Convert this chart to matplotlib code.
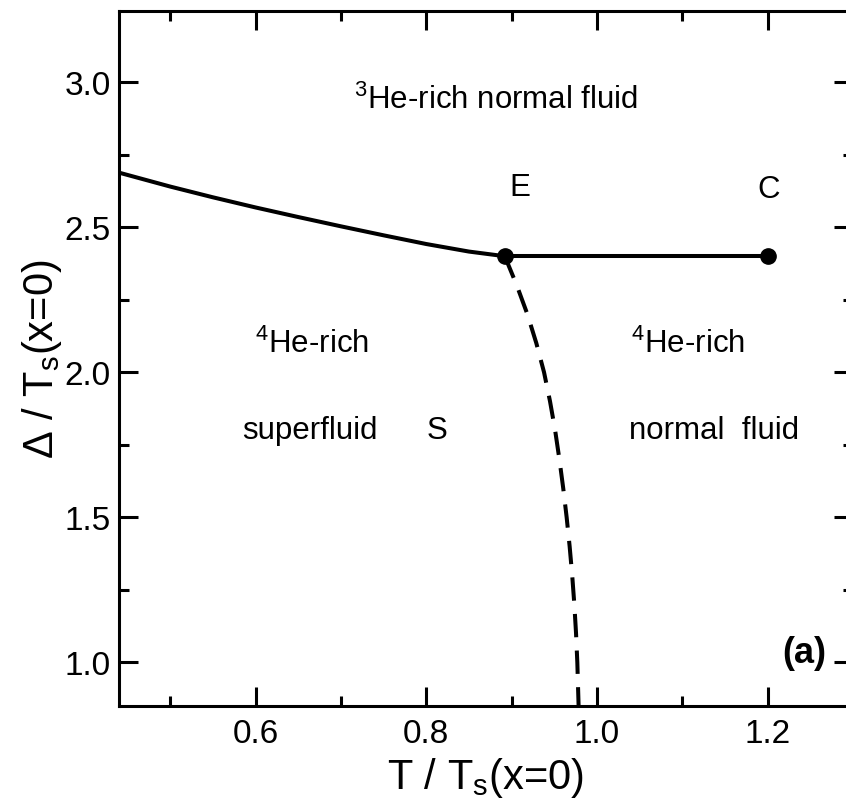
import matplotlib
matplotlib.use('Agg')
import matplotlib.pyplot as plt
from matplotlib.ticker import MultipleLocator

plt.rcParams['font.family'] = 'Liberation Sans'
plt.rcParams['mathtext.fontset'] = 'custom'
plt.rcParams['mathtext.rm'] = 'Liberation Sans'
plt.rcParams['mathtext.it'] = 'Liberation Sans'
plt.rcParams['mathtext.bf'] = 'Liberation Sans:bold'

# phase boundary data
solid_t = [0.44, 0.50, 0.55, 0.60, 0.65, 0.70, 0.75, 0.80, 0.85, 0.892]
solid_d = [2.688, 2.640, 2.603, 2.568, 2.535, 2.503, 2.472, 2.442, 2.416, 2.400]

line_t = [0.892, 1.20]
line_d = [2.400, 2.400]

dash_t = [0.892, 0.906, 0.9185, 0.929, 0.938, 0.945, 0.951, 0.956, 0.9605,
          0.9645, 0.968, 0.971, 0.9735, 0.9755, 0.977, 0.9785]
dash_d = [2.40, 2.30, 2.20, 2.10, 2.00, 1.90, 1.80, 1.70, 1.60,
          1.50, 1.40, 1.30, 1.20, 1.10, 1.00, 0.85]

point_t = [0.892, 1.20]
point_d = [2.400, 2.400]

fig = plt.figure(figsize=(8.46, 8.12), dpi=100)
ax = fig.add_axes([119 / 846, 1 - 707 / 812, (853 - 119) / 846, (707 - 12) / 812])

ax.plot(solid_t, solid_d, color='black', lw=2.9)
ax.plot(line_t, line_d, color='black', lw=2.9)
ax.plot(dash_t, dash_d, color='black', lw=2.9, dashes=(5.8, 3.3))
ax.plot(point_t, point_d, 'o', color='black', ms=11, zorder=5)

ax.set_xlim(0.44, 1.30)
ax.set_ylim(0.85, 3.245)

ax.xaxis.set_major_locator(MultipleLocator(0.2))
ax.xaxis.set_minor_locator(MultipleLocator(0.1))
ax.yaxis.set_major_locator(MultipleLocator(0.5))
ax.yaxis.set_minor_locator(MultipleLocator(0.25))
ax.tick_params(which='both', direction='in', top=True, right=True, width=2.2, labelsize=24)
ax.tick_params(which='major', length=14)
ax.tick_params(which='minor', length=7)
ax.tick_params(axis='x', pad=9)
ax.tick_params(axis='y', pad=6)
for s in ax.spines.values():
    s.set_linewidth(2.2)

ax.set_xlabel(r'T / T$_\mathregular{s}$(x=0)', fontsize=30, labelpad=4)
ax.set_ylabel(r'Δ / T$_\mathregular{s}$(x=0)', fontsize=30, labelpad=0)

fs = 22.5
ax.text(0.882, 2.94, r'$^\mathregular{3}$He-rich normal fluid', fontsize=fs, ha='center', va='center')
ax.text(0.910, 2.64, 'E', fontsize=fs, ha='center', va='center')
ax.text(1.201, 2.63, 'C', fontsize=fs, ha='center', va='center')
ax.text(0.666, 2.10, r'$^\mathregular{4}$He-rich', fontsize=fs, ha='center', va='center')
ax.text(0.664, 1.80, 'superfluid', fontsize=fs, ha='center', va='center')
ax.text(0.813, 1.80, 'S', fontsize=fs, ha='center', va='center')
ax.text(1.107, 2.10, r'$^\mathregular{4}$He-rich', fontsize=fs, ha='center', va='center')
ax.text(1.137, 1.80, 'normal  fluid', fontsize=fs, ha='center', va='center')
ax.text(1.243, 1.034, '(a)', fontsize=26, fontweight='bold', ha='center', va='center')

fig.savefig('out.png', dpi=100)
